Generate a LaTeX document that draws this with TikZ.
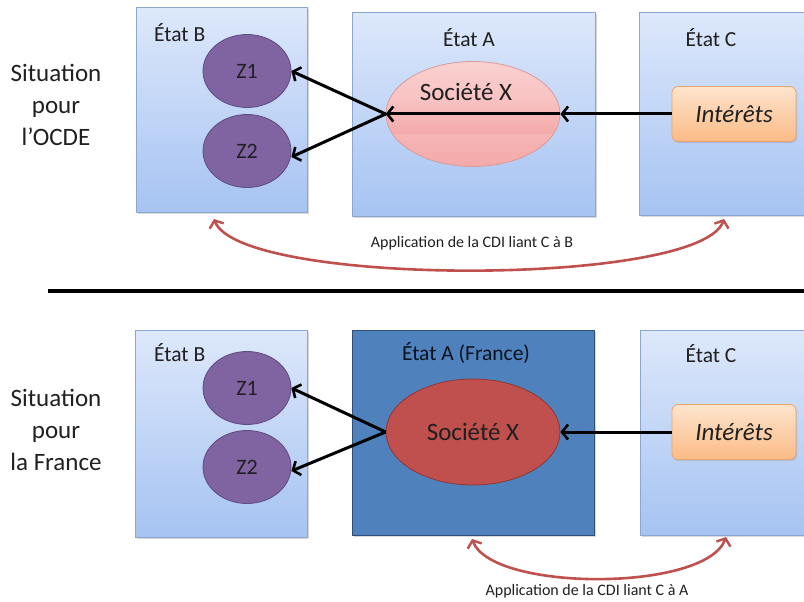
\documentclass[tikz,border=0pt]{standalone}
\usepackage{fontspec}
\setmainfont{Carlito}
\usetikzlibrary{shapes.geometric,arrows.meta,shadows}
\definecolor{boxtop}{HTML}{DDE8FB}
\definecolor{boxbot}{HTML}{A6C3F2}
\definecolor{boxborder}{HTML}{8CA6D0}
\definecolor{darkA}{HTML}{4F81BD}
\definecolor{darkAborder}{HTML}{2F4F7A}
\definecolor{zfill}{HTML}{8064A2}
\definecolor{zborder}{HTML}{5D4A7E}
\definecolor{socred}{HTML}{C0504D}
\definecolor{socredborder}{HTML}{8C3836}
\definecolor{pinktop}{HTML}{FAD0D0}
\definecolor{pinkbot}{HTML}{F4A9A9}
\definecolor{pinkborder}{HTML}{D99A9A}
\definecolor{bandcol}{HTML}{6E7598}
\definecolor{orgtop}{HTML}{FDE4CD}
\definecolor{orgbot}{HTML}{FBBB86}
\definecolor{orgborder}{HTML}{EBA468}
\definecolor{curvecol}{HTML}{C0504D}
\definecolor{txt}{HTML}{202020}
\begin{document}
\begin{tikzpicture}[x=1pt,y=-1pt,
  statebox/.style={draw=boxborder, line width=0.8pt, top color=boxtop, bottom color=boxbot,
    anchor=north west, inner sep=0pt,
    drop shadow={opacity=0.3, shadow xshift=1.5pt, shadow yshift=-1.5pt}},
  darkbox/.style={draw=darkAborder, line width=0.8pt, fill=darkA,
    anchor=north west, inner sep=0pt,
    drop shadow={opacity=0.3, shadow xshift=1.5pt, shadow yshift=-1.5pt}},
  statelabel/.style={font=\fontsize{21.5}{24}\selectfont, text=txt, inner sep=0pt},
  zell/.style={ellipse, draw=zborder, line width=0.8pt, fill=zfill, minimum width=88pt,
    minimum height=73pt, inner sep=0pt, font=\fontsize{22}{24}\selectfont, text=txt},
  socpink/.style={ellipse, draw=pinkborder, line width=0.8pt, top color=pinktop, bottom color=pinkbot,
    minimum width=174pt, minimum height=105pt, inner sep=0pt},
  socdark/.style={ellipse, draw=socredborder, line width=0.8pt, fill=socred,
    minimum width=174pt, minimum height=106pt, inner sep=0pt,
    font=\fontsize{25}{27}\selectfont, text=txt},
  intbox/.style={draw=orgborder, line width=0.8pt, rounded corners=6pt, top color=orgtop,
    bottom color=orgbot, minimum width=124pt, minimum height=55pt, inner sep=0pt,
    font=\fontsize{25}{27}\selectfont\itshape, text=txt,
    drop shadow={opacity=0.25, shadow xshift=1pt, shadow yshift=-1.5pt}},
  arr/.style={draw=black, line width=3pt, -{Straight Barb[length=6pt,width=15pt,line width=2.6pt]}},
  curve/.style={draw=curvecol, line width=2.6pt,
    {Straight Barb[length=6pt,width=15pt,line width=2.4pt]}-{Straight Barb[length=6pt,width=15pt,line width=2.4pt]}},
  smalllabel/.style={font=\fontsize{16}{18}\selectfont, text=txt, inner sep=0pt},
  sidelabel/.style={align=center, font=\fontsize{25}{32}\selectfont, text=txt, inner sep=0pt}
]
\useasboundingbox (0,0) rectangle (804,602);
\fill[white] (0,0) rectangle (804,602);

% ---------------- top panel ----------------
\node[sidelabel] (s1) at (56,105) {Situation\\pour\\l’OCDE};

\node[statebox, minimum width=171pt, minimum height=205pt] (B1) at (136,7) {};
\node[statebox, minimum width=243pt, minimum height=204pt] (A1) at (352,12) {};
\node[statebox, minimum width=170pt, minimum height=203pt] (C1) at (639,12) {};

\node[statelabel, anchor=west] (B1l) at (154,33) {État B};
\node[statelabel] (A1l) at (469,38) {État A};
\node[statelabel] (C1l) at (711,38) {État C};

\node[zell] (Z11) at (247,71) {Z1};
\node[zell] (Z21) at (247,151) {Z2};

\node[socpink] (X1) at (473,114) {};
\begin{scope}
  \clip (473,114) ellipse (86pt and 51.5pt);
  \shade[top color=pinktop!70!pinkbot, middle color=bandcol, bottom color=pinkbot, opacity=0.9]
    (380,97) rectangle (565,133);
\end{scope}
\node[font=\fontsize{25}{27}\selectfont, text=txt, inner sep=0pt] (X1t) at (466,92) {Société X};

\node[intbox] (I1) at (734,114) {Intérêts};

\draw[arr] (I1.west) -- (X1.east);
\draw[arr] (X1.east) -- (X1.west);
\draw[arr] (X1.west) -- (Z11.east);
\draw[arr] (X1.west) -- ([yshift=-6pt]Z21.east);

\coordinate (cb1) at (214,219);
\coordinate (cc1) at (724,219);
\draw[curve] (cb1) .. controls (240,287) and (700,287) .. (cc1);
\node[smalllabel] (L1) at (472,243) {Application de la CDI liant C à B};

% ---------------- divider ----------------
\coordinate (d1) at (48,291);
\coordinate (d2) at (804,291);
\draw[line width=3.5pt, black] (d1) -- (d2);

% ---------------- bottom panel ----------------
\node[sidelabel] (s2) at (56,430) {Situation\\pour\\la France};

\node[statebox, minimum width=172pt, minimum height=207pt] (B2) at (135,330) {};
\node[darkbox, minimum width=242pt, minimum height=205pt] (A2) at (352,330) {};
\node[statebox, minimum width=170pt, minimum height=205pt] (C2) at (640,330) {};

\node[statelabel, anchor=west] (B2l) at (154,353) {État B};
\node[statelabel, text=black!85!darkA] (A2l) at (466,353) {État A (France)};
\node[statelabel] (C2l) at (711,354) {État C};

\node[zell] (Z12) at (247,388) {Z1};
\node[zell] (Z22) at (247,467) {Z2};

\node[socdark] (X2) at (473,432) {Société X};
\node[intbox] (I2) at (734,432) {Intérêts};

\draw[arr] (I2.west) -- (X2.east);
\draw[arr] (X2.west) -- (Z12.east);
\draw[arr] (X2.west) -- ([yshift=-4pt]Z22.east);

\coordinate (ca2) at (472,539);
\coordinate (cc2) at (726,537);
\draw[curve] (ca2) .. controls (492,592) and (706,592) .. (cc2);
\node[smalllabel] (L2) at (587,591) {Application de la CDI liant C à A};
\end{tikzpicture}
\end{document}
